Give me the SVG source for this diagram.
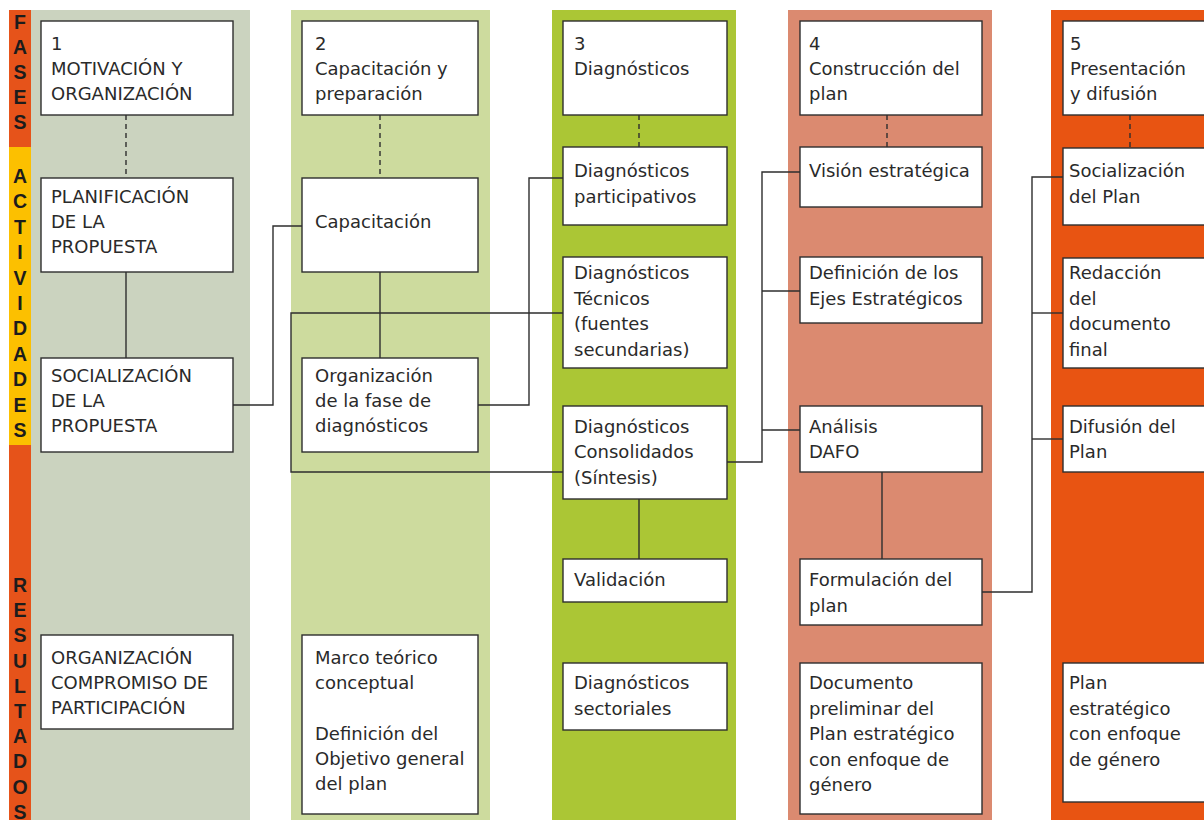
<svg xmlns="http://www.w3.org/2000/svg" width="1204" height="820" viewBox="0 0 1204 820">
<style>
.box{fill:#fff;stroke:#2e2e2e;stroke-width:1.4}
.t{font-family:"DejaVu Sans","Liberation Sans",sans-serif;font-size:18px;fill:#2a2a2a}
.side{font-family:"Liberation Sans",Arial,sans-serif;font-size:19.5px;font-weight:bold;fill:#1c1c1c;text-anchor:middle}
.ln{fill:none;stroke:#2e2e2e;stroke-width:1.4}
.dash{fill:none;stroke:#2e2e2e;stroke-width:1.4;stroke-dasharray:5,4}
</style>
<rect width="1204" height="820" fill="#fff"/>
<!-- column backgrounds -->
<rect x="31" y="10" width="219" height="810" fill="#cbd3bf"/>
<rect x="291" y="10" width="199" height="810" fill="#cddb9e"/>
<rect x="552" y="10" width="184" height="810" fill="#abc635"/>
<rect x="788" y="10" width="204" height="810" fill="#db8a70"/>
<rect x="1051" y="10" width="153" height="810" fill="#e85412"/>
<!-- side bar -->
<g id="sidebar">
<rect x="9" y="10" width="22" height="137" fill="#e6531a"/>
<rect x="9" y="147" width="22" height="298" fill="#fcc000"/>
<rect x="9" y="445" width="22" height="375" fill="#e6531a"/>
<text class="side" x="20" y="28.5">F</text>
<text class="side" x="20" y="53.5">A</text>
<text class="side" x="20" y="78.5">S</text>
<text class="side" x="20" y="103.5">E</text>
<text class="side" x="20" y="128.5">S</text>
<text class="side" x="20" y="182.5">A</text>
<text class="side" x="20" y="207.5">C</text>
<text class="side" x="20" y="233.5">T</text>
<text class="side" x="20" y="258.5">I</text>
<text class="side" x="20" y="284.5">V</text>
<text class="side" x="20" y="309.5">I</text>
<text class="side" x="20" y="334.5">D</text>
<text class="side" x="20" y="360.5">A</text>
<text class="side" x="20" y="385.5">D</text>
<text class="side" x="20" y="411.5">E</text>
<text class="side" x="20" y="436.5">S</text>
<text class="side" x="20" y="592">R</text>
<text class="side" x="20" y="617">E</text>
<text class="side" x="20" y="642">S</text>
<text class="side" x="20" y="668">U</text>
<text class="side" x="20" y="693">L</text>
<text class="side" x="20" y="718">T</text>
<text class="side" x="20" y="743">A</text>
<text class="side" x="20" y="768">D</text>
<text class="side" x="20" y="794">O</text>
<text class="side" x="20" y="819">S</text>
</g>
<!-- connectors -->
<g id="connectors">
<line class="dash" x1="126" y1="115" x2="126" y2="178"/>
<line class="ln" x1="126" y1="272" x2="126" y2="358"/>
<line class="dash" x1="380" y1="115" x2="380" y2="178"/>
<line class="ln" x1="380" y1="272" x2="380" y2="358"/>
<line class="dash" x1="639" y1="115" x2="639" y2="147"/>
<line class="ln" x1="639" y1="499" x2="639" y2="559"/>
<line class="dash" x1="887" y1="115" x2="887" y2="147"/>
<line class="ln" x1="882" y1="472" x2="882" y2="559"/>
<line class="dash" x1="1130" y1="115" x2="1130" y2="147"/>
<polyline class="ln" points="233,405 273,405 273,226 302,226"/>
<polyline class="ln" points="478,405 529,405 529,178 563,178"/>
<polyline class="ln" points="563,313 291,313 291,472 563,472"/>
<polyline class="ln" points="727,462 762,462 762,172 800,172"/>
<line class="ln" x1="762" y1="291" x2="800" y2="291"/>
<line class="ln" x1="762" y1="430" x2="800" y2="430"/>
<polyline class="ln" points="982,592 1032,592 1032,177 1063,177"/>
<line class="ln" x1="1032" y1="313" x2="1063" y2="313"/>
<line class="ln" x1="1032" y1="439" x2="1063" y2="439"/>
</g>
<!-- column 1 -->
<g id="n1-fase"><rect class="box" x="41" y="21" width="192" height="94"/>
<text class="t" x="51" y="50">1</text><text class="t" x="51" y="75">MOTIVACIÓN Y</text><text class="t" x="51" y="100">ORGANIZACIÓN</text></g>
<g id="n1-plan"><rect class="box" x="41" y="178" width="192" height="94"/>
<text class="t" x="51" y="203">PLANIFICACIÓN</text><text class="t" x="51" y="228">DE LA</text><text class="t" x="51" y="253">PROPUESTA</text></g>
<g id="n1-soc"><rect class="box" x="41" y="358" width="192" height="94"/>
<text class="t" x="51" y="382">SOCIALIZACIÓN</text><text class="t" x="51" y="407">DE LA</text><text class="t" x="51" y="432">PROPUESTA</text></g>
<g id="n1-res"><rect class="box" x="41" y="635" width="192" height="94"/>
<text class="t" x="51" y="664">ORGANIZACIÓN</text><text class="t" x="51" y="689">COMPROMISO DE</text><text class="t" x="51" y="714">PARTICIPACIÓN</text></g>
<!-- column 2 -->
<g id="n2-fase"><rect class="box" x="302" y="21" width="176" height="94"/>
<text class="t" x="315" y="50">2</text><text class="t" x="315" y="75">Capacitación y</text><text class="t" x="315" y="100">preparación</text></g>
<g id="n2-cap"><rect class="box" x="302" y="178" width="176" height="94"/>
<text class="t" x="315" y="228">Capacitación</text></g>
<g id="n2-org"><rect class="box" x="302" y="358" width="176" height="94"/>
<text class="t" x="315" y="382">Organización</text><text class="t" x="315" y="407">de la fase de</text><text class="t" x="315" y="432">diagnósticos</text></g>
<g id="n2-res"><rect class="box" x="302" y="635" width="176" height="179"/>
<text class="t" x="315" y="664">Marco teórico</text><text class="t" x="315" y="689">conceptual</text>
<text class="t" x="315" y="740">Definición del</text><text class="t" x="315" y="765">Objetivo general</text><text class="t" x="315" y="790">del plan</text></g>
<!-- column 3 -->
<g id="n3-fase"><rect class="box" x="563" y="21" width="164" height="94"/>
<text class="t" x="574" y="50">3</text><text class="t" x="574" y="75">Diagnósticos</text></g>
<g id="n3-part"><rect class="box" x="563" y="147" width="164" height="78"/>
<text class="t" x="574" y="177">Diagnósticos</text><text class="t" x="574" y="203">participativos</text></g>
<g id="n3-tec"><rect class="box" x="563" y="257" width="164" height="111"/>
<text class="t" x="574" y="279">Diagnósticos</text><text class="t" x="574" y="305">Técnicos</text><text class="t" x="574" y="330">(fuentes</text><text class="t" x="574" y="356">secundarias)</text></g>
<g id="n3-cons"><rect class="box" x="563" y="406" width="164" height="93"/>
<text class="t" x="574" y="433">Diagnósticos</text><text class="t" x="574" y="458">Consolidados</text><text class="t" x="574" y="484">(Síntesis)</text></g>
<g id="n3-val"><rect class="box" x="563" y="559" width="164" height="43"/>
<text class="t" x="574" y="586">Validación</text></g>
<g id="n3-res"><rect class="box" x="563" y="663" width="164" height="67"/>
<text class="t" x="574" y="689">Diagnósticos</text><text class="t" x="574" y="715">sectoriales</text></g>
<!-- column 4 -->
<g id="n4-fase"><rect class="box" x="800" y="21" width="182" height="94"/>
<text class="t" x="809" y="50">4</text><text class="t" x="809" y="75">Construcción del</text><text class="t" x="809" y="100">plan</text></g>
<g id="n4-vis"><rect class="box" x="800" y="147" width="182" height="60"/>
<text class="t" x="809" y="177">Visión estratégica</text></g>
<g id="n4-ejes"><rect class="box" x="800" y="257" width="182" height="66"/>
<text class="t" x="809" y="279">Definición de los</text><text class="t" x="809" y="305">Ejes Estratégicos</text></g>
<g id="n4-dafo"><rect class="box" x="800" y="406" width="182" height="66"/>
<text class="t" x="809" y="433">Análisis</text><text class="t" x="809" y="458">DAFO</text></g>
<g id="n4-form"><rect class="box" x="800" y="559" width="182" height="66"/>
<text class="t" x="809" y="586">Formulación del</text><text class="t" x="809" y="612">plan</text></g>
<g id="n4-res"><rect class="box" x="800" y="663" width="182" height="151"/>
<text class="t" x="809" y="689">Documento</text><text class="t" x="809" y="715">preliminar del</text><text class="t" x="809" y="740">Plan estratégico</text><text class="t" x="809" y="766">con enfoque de</text><text class="t" x="809" y="791">género</text></g>
<!-- column 5 -->
<g id="n5-fase"><rect class="box" x="1063" y="21" width="150" height="94"/>
<text class="t" x="1070" y="50">5</text><text class="t" x="1070" y="75">Presentación</text><text class="t" x="1070" y="100">y difusión</text></g>
<g id="n5-soc"><rect class="box" x="1063" y="148" width="150" height="77"/>
<text class="t" x="1069" y="177">Socialización</text><text class="t" x="1069" y="203">del Plan</text></g>
<g id="n5-red"><rect class="box" x="1063" y="258" width="150" height="110"/>
<text class="t" x="1069" y="279">Redacción</text><text class="t" x="1069" y="305">del</text><text class="t" x="1069" y="330">documento</text><text class="t" x="1069" y="356">final</text></g>
<g id="n5-dif"><rect class="box" x="1063" y="406" width="150" height="66"/>
<text class="t" x="1069" y="433">Difusión del</text><text class="t" x="1069" y="458">Plan</text></g>
<g id="n5-res"><rect class="box" x="1063" y="663" width="150" height="139"/>
<text class="t" x="1069" y="689">Plan</text><text class="t" x="1069" y="715">estratégico</text><text class="t" x="1069" y="740">con enfoque</text><text class="t" x="1069" y="766">de género</text></g>
</svg>
